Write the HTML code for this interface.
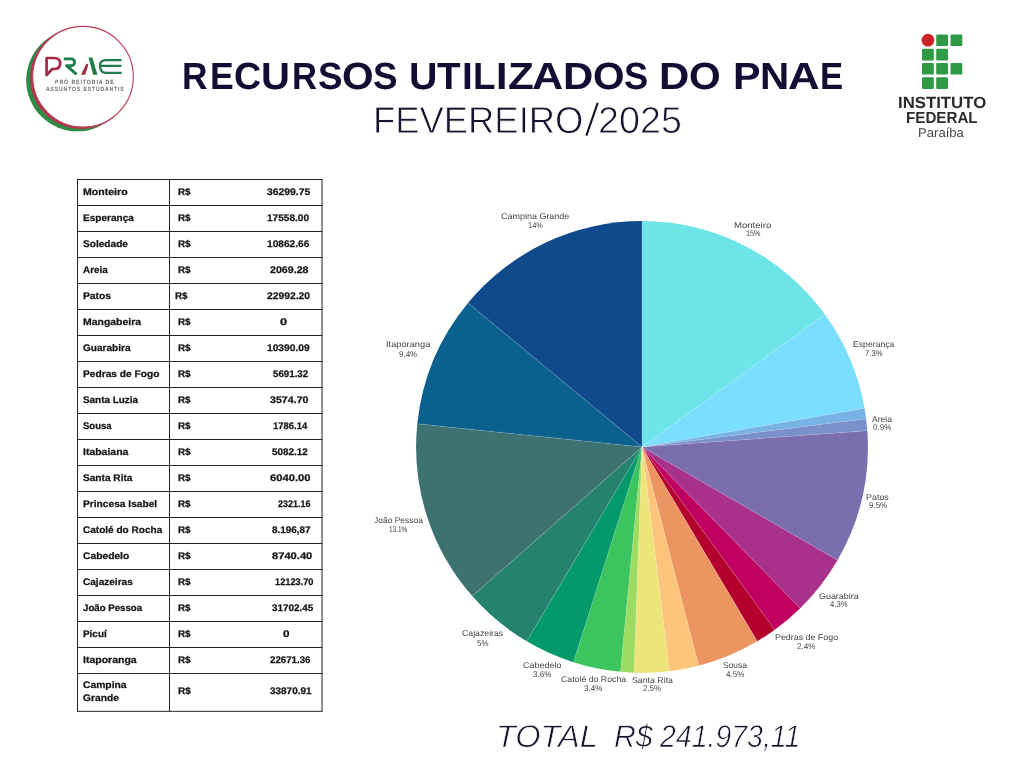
<!DOCTYPE html>
<html><head><meta charset="utf-8"><title>Recursos PNAE</title>
<style>
html,body{margin:0;padding:0;background:#fff;}
body{width:1024px;height:768px;position:relative;overflow:hidden;font-family:"Liberation Sans",sans-serif;}
.abs{position:absolute;left:0;top:0}
.t{position:absolute;white-space:pre;transform-origin:0 0;display:block;text-rendering:geometricPrecision}
#tx{position:absolute;left:0;top:0;width:1024px;height:768px;will-change:transform}
</style></head><body>
<svg class="abs" width="1024" height="768" viewBox="0 0 1024 768">

<circle cx="77.3" cy="80.2" r="51.1" fill="#2c8c46"/>
<circle cx="81.3" cy="77.8" r="51.2" fill="#b3364f"/>
<circle cx="83" cy="76.7" r="50.3" fill="#fff" stroke="#bb3c56" stroke-width="1.1"/>
<g fill="none" stroke-linejoin="round" stroke-linecap="round">
<path d="M46.6 75 V58 H54 Q60.2 58 60.2 63.5 Q60.2 69 54 69 H52.2 Z" stroke="#a32a42" stroke-width="2.7"/>
<path d="M63.8 58.9 H71.2 A3.4 3.4 0 0 1 71.2 65.7 H66.6 L76.6 74.3" stroke="#1f7d47" stroke-width="2.9" stroke-linecap="butt"/>
<path d="M121.6 60.2 H106 Q100 60.2 100 65.8 H121.4 M100 65.8 Q100 72.9 106 72.9 H121.6" stroke="#1f7d47" stroke-width="2.3" stroke-linecap="butt"/>
</g>
<polygon points="81,74.7 85.2,74.7 88.4,64.6 86.5,63.6" fill="#a32a42"/>
<line x1="586.4" y1="135.7" x2="597.7" y2="102.8" stroke="#17132f" stroke-width="2.1"/>
<polygon points="88.5,57.4 92.4,57.4 97.4,74.7 93.2,74.7" fill="#1f7d47"/>

<rect x="936.2" y="34.4" width="11.8" height="11.7" rx="1.2" fill="#2f9a45"/>
<rect x="950.5" y="34.4" width="11.8" height="11.7" rx="1.2" fill="#2f9a45"/>
<rect x="922.0" y="48.7" width="11.8" height="11.7" rx="1.2" fill="#2f9a45"/>
<rect x="936.2" y="48.7" width="11.8" height="11.7" rx="1.2" fill="#2f9a45"/>
<rect x="922.0" y="62.9" width="11.8" height="11.7" rx="1.2" fill="#2f9a45"/>
<rect x="936.2" y="62.9" width="11.8" height="11.7" rx="1.2" fill="#2f9a45"/>
<rect x="950.5" y="62.9" width="11.8" height="11.7" rx="1.2" fill="#2f9a45"/>
<rect x="922.0" y="77.2" width="11.8" height="11.7" rx="1.2" fill="#2f9a45"/>
<rect x="936.2" y="77.2" width="11.8" height="11.7" rx="1.2" fill="#2f9a45"/>
<circle cx="927.95" cy="40.15" r="6.35" fill="#cc2229"/>
<g fill="#242424"><rect x="77" y="179" width="1" height="532.8"/><rect x="169" y="179" width="1" height="532.8"/><rect x="321.5" y="179" width="1" height="532.8"/><rect x="77" y="179" width="245.5" height="1"/><rect x="77" y="710.8" width="245.5" height="1"/><rect x="77" y="205" width="245.5" height="1"/><rect x="77" y="231" width="245.5" height="1"/><rect x="77" y="257" width="245.5" height="1"/><rect x="77" y="283" width="245.5" height="1"/><rect x="77" y="309" width="245.5" height="1"/><rect x="77" y="335" width="245.5" height="1"/><rect x="77" y="361" width="245.5" height="1"/><rect x="77" y="387" width="245.5" height="1"/><rect x="77" y="413" width="245.5" height="1"/><rect x="77" y="439" width="245.5" height="1"/><rect x="77" y="465" width="245.5" height="1"/><rect x="77" y="491" width="245.5" height="1"/><rect x="77" y="517" width="245.5" height="1"/><rect x="77" y="543" width="245.5" height="1"/><rect x="77" y="569" width="245.5" height="1"/><rect x="77" y="595" width="245.5" height="1"/><rect x="77" y="621" width="245.5" height="1"/><rect x="77" y="647" width="245.5" height="1"/><rect x="77" y="673" width="245.5" height="1"/></g>
<path d="M642.0 447.0L642.00 221.10A225.9 225.9 0 0 1 824.77 314.24Z" fill="#6ce4e8"/>
<path d="M642.0 447.0L824.77 314.24A225.9 225.9 0 0 1 864.56 408.27Z" fill="#7adffe"/>
<path d="M642.0 447.0L864.56 408.27A225.9 225.9 0 0 1 866.11 418.63Z" fill="#78b3e6"/>
<path d="M642.0 447.0L866.11 418.63A225.9 225.9 0 0 1 867.31 430.71Z" fill="#7a90cb"/>
<path d="M642.0 447.0L867.31 430.71A225.9 225.9 0 0 1 837.50 560.19Z" fill="#7a6eae"/>
<path d="M642.0 447.0L837.50 560.19A225.9 225.9 0 0 1 800.25 608.20Z" fill="#a8328b"/>
<path d="M642.0 447.0L800.25 608.20A225.9 225.9 0 0 1 774.79 629.75Z" fill="#c00060"/>
<path d="M642.0 447.0L774.79 629.75A225.9 225.9 0 0 1 757.28 641.27Z" fill="#b3002d"/>
<path d="M642.0 447.0L757.28 641.27A225.9 225.9 0 0 1 698.65 665.68Z" fill="#ec9560"/>
<path d="M642.0 447.0L698.65 665.68A225.9 225.9 0 0 1 669.39 671.23Z" fill="#fdc47c"/>
<path d="M642.0 447.0L669.39 671.23A225.9 225.9 0 0 1 634.03 672.76Z" fill="#ede47a"/>
<path d="M642.0 447.0L634.03 672.76A225.9 225.9 0 0 1 620.44 671.87Z" fill="#9cdc62"/>
<path d="M642.0 447.0L620.44 671.87A225.9 225.9 0 0 1 573.43 662.24Z" fill="#3cc45e"/>
<path d="M642.0 447.0L573.43 662.24A225.9 225.9 0 0 1 526.75 641.29Z" fill="#04996b"/>
<path d="M642.0 447.0L526.75 641.29A225.9 225.9 0 0 1 472.26 596.06Z" fill="#25826f"/>
<path d="M642.0 447.0L472.26 596.06A225.9 225.9 0 0 1 417.29 423.86Z" fill="#3d7270"/>
<path d="M642.0 447.0L417.29 423.86A225.9 225.9 0 0 1 467.96 302.98Z" fill="#0b618e"/>
<path d="M642.0 447.0L467.96 302.98A225.9 225.9 0 0 1 642.00 221.10Z" fill="#0e4a8c"/>
<g stroke="#ffffff" stroke-opacity="0.28" stroke-width="0.6"><line x1="642.0" y1="447.0" x2="642.00" y2="221.10"/>
<line x1="642.0" y1="447.0" x2="824.77" y2="314.24"/>
<line x1="642.0" y1="447.0" x2="864.56" y2="408.27"/>
<line x1="642.0" y1="447.0" x2="866.11" y2="418.63"/>
<line x1="642.0" y1="447.0" x2="867.31" y2="430.71"/>
<line x1="642.0" y1="447.0" x2="837.50" y2="560.19"/>
<line x1="642.0" y1="447.0" x2="800.25" y2="608.20"/>
<line x1="642.0" y1="447.0" x2="774.79" y2="629.75"/>
<line x1="642.0" y1="447.0" x2="757.28" y2="641.27"/>
<line x1="642.0" y1="447.0" x2="698.65" y2="665.68"/>
<line x1="642.0" y1="447.0" x2="669.39" y2="671.23"/>
<line x1="642.0" y1="447.0" x2="634.03" y2="672.76"/>
<line x1="642.0" y1="447.0" x2="620.44" y2="671.87"/>
<line x1="642.0" y1="447.0" x2="573.43" y2="662.24"/>
<line x1="642.0" y1="447.0" x2="526.75" y2="641.29"/>
<line x1="642.0" y1="447.0" x2="472.26" y2="596.06"/>
<line x1="642.0" y1="447.0" x2="417.29" y2="423.86"/>
<line x1="642.0" y1="447.0" x2="467.96" y2="302.98"/></g>
</svg>

<div id="tx">
<span class="t" style="left:181.81px;top:58.80px;font-size:37.8px;line-height:37.8px;color:#130d33;font-weight:bold;transform:scaleX(0.9354);">R</span>
<span class="t" style="left:209.65px;top:58.80px;font-size:37.8px;line-height:37.8px;color:#130d33;font-weight:bold;transform:scaleX(0.9412);">E</span>
<span class="t" style="left:234.11px;top:58.80px;font-size:37.8px;line-height:37.8px;color:#130d33;font-weight:bold;transform:scaleX(0.9939);">C</span>
<span class="t" style="left:261.42px;top:58.80px;font-size:37.8px;line-height:37.8px;color:#130d33;font-weight:bold;transform:scaleX(1.0593);">U</span>
<span class="t" style="left:292.21px;top:58.80px;font-size:37.8px;line-height:37.8px;color:#130d33;font-weight:bold;transform:scaleX(0.9167);">R</span>
<span class="t" style="left:317.88px;top:58.80px;font-size:37.8px;line-height:37.8px;color:#130d33;font-weight:bold;transform:scaleX(0.9733);">S</span>
<span class="t" style="left:341.99px;top:58.80px;font-size:37.8px;line-height:37.8px;color:#130d33;font-weight:bold;transform:scaleX(1.0762);">O</span>
<span class="t" style="left:373.28px;top:58.80px;font-size:37.8px;line-height:37.8px;color:#130d33;font-weight:bold;transform:scaleX(0.9733);">S</span>
<span class="t" style="left:409.06px;top:58.80px;font-size:37.8px;line-height:37.8px;color:#130d33;font-weight:bold;transform:scaleX(1.0418);">U</span>
<span class="t" style="left:437.09px;top:58.80px;font-size:37.8px;line-height:37.8px;color:#130d33;font-weight:bold;transform:scaleX(1.0202);">T</span>
<span class="t" style="left:461.58px;top:58.80px;font-size:37.8px;line-height:37.8px;color:#130d33;font-weight:bold;transform:scaleX(1.0273);">I</span>
<span class="t" style="left:472.86px;top:58.80px;font-size:37.8px;line-height:37.8px;color:#130d33;font-weight:bold;transform:scaleX(0.9744);">L</span>
<span class="t" style="left:495.67px;top:58.80px;font-size:37.8px;line-height:37.8px;color:#130d33;font-weight:bold;transform:scaleX(1.0909);">I</span>
<span class="t" style="left:507.70px;top:58.80px;font-size:37.8px;line-height:37.8px;color:#130d33;font-weight:bold;transform:scaleX(1.1181);">Z</span>
<span class="t" style="left:531.66px;top:58.80px;font-size:37.8px;line-height:37.8px;color:#130d33;font-weight:bold;transform:scaleX(1.1446);">A</span>
<span class="t" style="left:562.73px;top:58.80px;font-size:37.8px;line-height:37.8px;color:#130d33;font-weight:bold;transform:scaleX(1.1097);">D</span>
<span class="t" style="left:592.99px;top:58.80px;font-size:37.8px;line-height:37.8px;color:#130d33;font-weight:bold;transform:scaleX(1.0743);">O</span>
<span class="t" style="left:624.10px;top:58.80px;font-size:37.8px;line-height:37.8px;color:#130d33;font-weight:bold;transform:scaleX(0.9600);">S</span>
<span class="t" style="left:658.93px;top:58.80px;font-size:37.8px;line-height:37.8px;color:#130d33;font-weight:bold;transform:scaleX(1.1097);">D</span>
<span class="t" style="left:689.38px;top:58.80px;font-size:37.8px;line-height:37.8px;color:#130d33;font-weight:bold;transform:scaleX(1.0781);">O</span>
<span class="t" style="left:732.77px;top:58.80px;font-size:37.8px;line-height:37.8px;color:#130d33;font-weight:bold;transform:scaleX(1.0930);">P</span>
<span class="t" style="left:760.23px;top:58.80px;font-size:37.8px;line-height:37.8px;color:#130d33;font-weight:bold;transform:scaleX(1.0697);">N</span>
<span class="t" style="left:787.94px;top:58.80px;font-size:37.8px;line-height:37.8px;color:#130d33;font-weight:bold;transform:scaleX(1.1604);">A</span>
<span class="t" style="left:819.61px;top:58.80px;font-size:37.8px;line-height:37.8px;color:#130d33;font-weight:bold;transform:scaleX(0.9176);">E</span>
<span class="t" style="left:373.39px;top:102.25px;font-size:37.5px;line-height:37.5px;color:#17132f;-webkit-text-stroke:0.8px #fff;transform:scaleX(0.9708);">FEVEREIRO</span>
<span class="t" style="left:598.39px;top:102.25px;font-size:37.5px;line-height:37.5px;color:#17132f;-webkit-text-stroke:0.8px #fff;transform:scaleX(1.0069);">2025</span>
<span class="t" style="left:495.55px;top:720.90px;font-size:31.4px;line-height:31.4px;color:#17132f;font-style:italic;-webkit-text-stroke:0.7px #fff;transform:scaleX(1.0359);">TOTAL</span>
<span class="t" style="left:613.74px;top:720.90px;font-size:31.4px;line-height:31.4px;color:#17132f;font-style:italic;-webkit-text-stroke:0.7px #fff;transform:scaleX(0.9646);">R$</span>
<span class="t" style="left:660.23px;top:720.90px;font-size:31.4px;line-height:31.4px;color:#17132f;font-style:italic;-webkit-text-stroke:0.7px #fff;transform:scaleX(0.9071);">241.973,11</span>
<span class="t" style="left:897.56px;top:95.45px;font-size:16.2px;line-height:16.2px;color:#2b2b2b;font-weight:bold;transform:scaleX(1.0359);">INSTITUTO</span>
<span class="t" style="left:905.70px;top:110.85px;font-size:16.0px;line-height:16.0px;color:#2b2b2b;font-weight:bold;transform:scaleX(0.9480);">FEDERAL</span>
<span class="t" style="left:918.48px;top:127.35px;font-size:12.8px;line-height:12.8px;color:#444;transform:scaleX(1.0240);">Paraíba</span>
<span class="t" style="left:54.77px;top:80.15px;font-size:6.1px;line-height:6.1px;color:#6a6a6a;font-weight:bold;letter-spacing:1.0px;transform:scaleX(0.8672);">PRÓ REITORIA DE</span>
<span class="t" style="left:45.59px;top:86.75px;font-size:6.1px;line-height:6.1px;color:#6a6a6a;font-weight:bold;letter-spacing:1.0px;transform:scaleX(0.8413);">ASSUNTOS ESTUDANTIS</span>
<span class="t" style="left:82.87px;top:188.15px;font-size:9.6px;line-height:9.6px;color:#151515;font-weight:bold;-webkit-text-stroke:0.25px #151515;transform:scaleX(1.1013);">Monteiro</span>
<span class="t" style="left:177.93px;top:188.15px;font-size:9.6px;line-height:9.6px;color:#151515;font-weight:bold;-webkit-text-stroke:0.25px #151515;transform:scaleX(1.0261);">R$</span>
<span class="t" style="left:266.98px;top:188.15px;font-size:9.6px;line-height:9.6px;color:#151515;font-weight:bold;-webkit-text-stroke:0.25px #151515;transform:scaleX(1.0823);">36299.75</span>
<span class="t" style="left:82.91px;top:214.15px;font-size:9.6px;line-height:9.6px;color:#151515;font-weight:bold;-webkit-text-stroke:0.25px #151515;transform:scaleX(1.0471);">Esperança</span>
<span class="t" style="left:177.93px;top:214.15px;font-size:9.6px;line-height:9.6px;color:#151515;font-weight:bold;-webkit-text-stroke:0.25px #151515;transform:scaleX(1.0261);">R$</span>
<span class="t" style="left:267.22px;top:214.15px;font-size:9.6px;line-height:9.6px;color:#151515;font-weight:bold;-webkit-text-stroke:0.25px #151515;transform:scaleX(1.0510);">17558.00</span>
<span class="t" style="left:83.44px;top:240.15px;font-size:9.6px;line-height:9.6px;color:#151515;font-weight:bold;-webkit-text-stroke:0.25px #151515;transform:scaleX(1.0536);">Soledade</span>
<span class="t" style="left:177.93px;top:240.15px;font-size:9.6px;line-height:9.6px;color:#151515;font-weight:bold;-webkit-text-stroke:0.25px #151515;transform:scaleX(1.0261);">R$</span>
<span class="t" style="left:267.22px;top:240.15px;font-size:9.6px;line-height:9.6px;color:#151515;font-weight:bold;-webkit-text-stroke:0.25px #151515;transform:scaleX(1.0573);">10862.66</span>
<span class="t" style="left:83.44px;top:266.15px;font-size:9.6px;line-height:9.6px;color:#151515;font-weight:bold;-webkit-text-stroke:0.25px #151515;transform:scaleX(1.0316);">Areia</span>
<span class="t" style="left:177.93px;top:266.15px;font-size:9.6px;line-height:9.6px;color:#151515;font-weight:bold;-webkit-text-stroke:0.25px #151515;transform:scaleX(1.0261);">R$</span>
<span class="t" style="left:269.72px;top:266.15px;font-size:9.6px;line-height:9.6px;color:#151515;font-weight:bold;-webkit-text-stroke:0.25px #151515;transform:scaleX(1.1103);">2069.28</span>
<span class="t" style="left:82.90px;top:292.15px;font-size:9.6px;line-height:9.6px;color:#151515;font-weight:bold;-webkit-text-stroke:0.25px #151515;transform:scaleX(1.0700);">Patos</span>
<span class="t" style="left:175.18px;top:292.15px;font-size:9.6px;line-height:9.6px;color:#151515;font-weight:bold;-webkit-text-stroke:0.25px #151515;transform:scaleX(1.0261);">R$</span>
<span class="t" style="left:266.98px;top:292.15px;font-size:9.6px;line-height:9.6px;color:#151515;font-weight:bold;-webkit-text-stroke:0.25px #151515;transform:scaleX(1.0759);">22992.20</span>
<span class="t" style="left:82.88px;top:318.15px;font-size:9.6px;line-height:9.6px;color:#151515;font-weight:bold;-webkit-text-stroke:0.25px #151515;transform:scaleX(1.0900);">Mangabeira</span>
<span class="t" style="left:177.93px;top:318.15px;font-size:9.6px;line-height:9.6px;color:#151515;font-weight:bold;-webkit-text-stroke:0.25px #151515;transform:scaleX(1.0261);">R$</span>
<span class="t" style="left:280.33px;top:318.15px;font-size:9.6px;line-height:9.6px;color:#151515;font-weight:bold;-webkit-text-stroke:0.25px #151515;transform:scaleX(1.3333);">0</span>
<span class="t" style="left:83.17px;top:344.15px;font-size:9.6px;line-height:9.6px;color:#151515;font-weight:bold;-webkit-text-stroke:0.25px #151515;transform:scaleX(1.0500);">Guarabira</span>
<span class="t" style="left:177.93px;top:344.15px;font-size:9.6px;line-height:9.6px;color:#151515;font-weight:bold;-webkit-text-stroke:0.25px #151515;transform:scaleX(1.0261);">R$</span>
<span class="t" style="left:267.22px;top:344.15px;font-size:9.6px;line-height:9.6px;color:#151515;font-weight:bold;-webkit-text-stroke:0.25px #151515;transform:scaleX(1.0637);">10390.09</span>
<span class="t" style="left:82.90px;top:370.15px;font-size:9.6px;line-height:9.6px;color:#151515;font-weight:bold;-webkit-text-stroke:0.25px #151515;transform:scaleX(1.0634);">Pedras de Fogo</span>
<span class="t" style="left:177.93px;top:370.15px;font-size:9.6px;line-height:9.6px;color:#151515;font-weight:bold;-webkit-text-stroke:0.25px #151515;transform:scaleX(1.0261);">R$</span>
<span class="t" style="left:272.50px;top:370.15px;font-size:9.6px;line-height:9.6px;color:#151515;font-weight:bold;-webkit-text-stroke:0.25px #151515;transform:scaleX(1.0147);">5691.32</span>
<span class="t" style="left:83.44px;top:396.15px;font-size:9.6px;line-height:9.6px;color:#151515;font-weight:bold;-webkit-text-stroke:0.25px #151515;transform:scaleX(1.0329);">Santa Luzia</span>
<span class="t" style="left:177.93px;top:396.15px;font-size:9.6px;line-height:9.6px;color:#151515;font-weight:bold;-webkit-text-stroke:0.25px #151515;transform:scaleX(1.0261);">R$</span>
<span class="t" style="left:269.72px;top:396.15px;font-size:9.6px;line-height:9.6px;color:#151515;font-weight:bold;-webkit-text-stroke:0.25px #151515;transform:scaleX(1.1103);">3574.70</span>
<span class="t" style="left:83.45px;top:422.15px;font-size:9.6px;line-height:9.6px;color:#151515;font-weight:bold;-webkit-text-stroke:0.25px #151515;transform:scaleX(0.9912);">Sousa</span>
<span class="t" style="left:177.93px;top:422.15px;font-size:9.6px;line-height:9.6px;color:#151515;font-weight:bold;-webkit-text-stroke:0.25px #151515;transform:scaleX(1.0261);">R$</span>
<span class="t" style="left:272.76px;top:422.15px;font-size:9.6px;line-height:9.6px;color:#151515;font-weight:bold;-webkit-text-stroke:0.25px #151515;transform:scaleX(0.9853);">1786.14</span>
<span class="t" style="left:82.88px;top:448.15px;font-size:9.6px;line-height:9.6px;color:#151515;font-weight:bold;-webkit-text-stroke:0.25px #151515;transform:scaleX(1.0915);">Itabaiana</span>
<span class="t" style="left:177.93px;top:448.15px;font-size:9.6px;line-height:9.6px;color:#151515;font-weight:bold;-webkit-text-stroke:0.25px #151515;transform:scaleX(1.0261);">R$</span>
<span class="t" style="left:272.49px;top:448.15px;font-size:9.6px;line-height:9.6px;color:#151515;font-weight:bold;-webkit-text-stroke:0.25px #151515;transform:scaleX(1.0294);">5082.12</span>
<span class="t" style="left:83.44px;top:474.15px;font-size:9.6px;line-height:9.6px;color:#151515;font-weight:bold;-webkit-text-stroke:0.25px #151515;transform:scaleX(1.0535);">Santa Rita</span>
<span class="t" style="left:177.93px;top:474.15px;font-size:9.6px;line-height:9.6px;color:#151515;font-weight:bold;-webkit-text-stroke:0.25px #151515;transform:scaleX(1.0261);">R$</span>
<span class="t" style="left:269.71px;top:474.15px;font-size:9.6px;line-height:9.6px;color:#151515;font-weight:bold;-webkit-text-stroke:0.25px #151515;transform:scaleX(1.1691);">6040.00</span>
<span class="t" style="left:82.90px;top:500.15px;font-size:9.6px;line-height:9.6px;color:#151515;font-weight:bold;-webkit-text-stroke:0.25px #151515;transform:scaleX(1.0620);">Princesa Isabel</span>
<span class="t" style="left:177.93px;top:500.15px;font-size:9.6px;line-height:9.6px;color:#151515;font-weight:bold;-webkit-text-stroke:0.25px #151515;transform:scaleX(1.0261);">R$</span>
<span class="t" style="left:278.02px;top:500.15px;font-size:9.6px;line-height:9.6px;color:#151515;font-weight:bold;-webkit-text-stroke:0.25px #151515;transform:scaleX(0.9338);">2321.16</span>
<span class="t" style="left:83.18px;top:526.15px;font-size:9.6px;line-height:9.6px;color:#151515;font-weight:bold;-webkit-text-stroke:0.25px #151515;transform:scaleX(1.0465);">Catolé do Rocha</span>
<span class="t" style="left:177.93px;top:526.15px;font-size:9.6px;line-height:9.6px;color:#151515;font-weight:bold;-webkit-text-stroke:0.25px #151515;transform:scaleX(1.0261);">R$</span>
<span class="t" style="left:272.49px;top:526.15px;font-size:9.6px;line-height:9.6px;color:#151515;font-weight:bold;-webkit-text-stroke:0.25px #151515;transform:scaleX(1.0340);">8.196,87</span>
<span class="t" style="left:83.16px;top:552.15px;font-size:9.6px;line-height:9.6px;color:#151515;font-weight:bold;-webkit-text-stroke:0.25px #151515;transform:scaleX(1.0710);">Cabedelo</span>
<span class="t" style="left:177.93px;top:552.15px;font-size:9.6px;line-height:9.6px;color:#151515;font-weight:bold;-webkit-text-stroke:0.25px #151515;transform:scaleX(1.0261);">R$</span>
<span class="t" style="left:272.46px;top:552.15px;font-size:9.6px;line-height:9.6px;color:#151515;font-weight:bold;-webkit-text-stroke:0.25px #151515;transform:scaleX(1.1618);">8740.40</span>
<span class="t" style="left:83.18px;top:578.15px;font-size:9.6px;line-height:9.6px;color:#151515;font-weight:bold;-webkit-text-stroke:0.25px #151515;transform:scaleX(1.0484);">Cajazeiras</span>
<span class="t" style="left:177.93px;top:578.15px;font-size:9.6px;line-height:9.6px;color:#151515;font-weight:bold;-webkit-text-stroke:0.25px #151515;transform:scaleX(1.0261);">R$</span>
<span class="t" style="left:275.02px;top:578.15px;font-size:9.6px;line-height:9.6px;color:#151515;font-weight:bold;-webkit-text-stroke:0.25px #151515;transform:scaleX(0.9618);">12123.70</span>
<span class="t" style="left:83.45px;top:604.15px;font-size:9.6px;line-height:9.6px;color:#151515;font-weight:bold;-webkit-text-stroke:0.25px #151515;transform:scaleX(1.0085);">João Pessoa</span>
<span class="t" style="left:177.93px;top:604.15px;font-size:9.6px;line-height:9.6px;color:#151515;font-weight:bold;-webkit-text-stroke:0.25px #151515;transform:scaleX(1.0261);">R$</span>
<span class="t" style="left:272.49px;top:604.15px;font-size:9.6px;line-height:9.6px;color:#151515;font-weight:bold;-webkit-text-stroke:0.25px #151515;transform:scaleX(1.0316);">31702.45</span>
<span class="t" style="left:82.92px;top:630.15px;font-size:9.6px;line-height:9.6px;color:#151515;font-weight:bold;-webkit-text-stroke:0.25px #151515;transform:scaleX(1.0333);">Picuí</span>
<span class="t" style="left:177.93px;top:630.15px;font-size:9.6px;line-height:9.6px;color:#151515;font-weight:bold;-webkit-text-stroke:0.25px #151515;transform:scaleX(1.0261);">R$</span>
<span class="t" style="left:282.89px;top:630.15px;font-size:9.6px;line-height:9.6px;color:#151515;font-weight:bold;-webkit-text-stroke:0.25px #151515;transform:scaleX(1.2222);">0</span>
<span class="t" style="left:82.88px;top:656.15px;font-size:9.6px;line-height:9.6px;color:#151515;font-weight:bold;-webkit-text-stroke:0.25px #151515;transform:scaleX(1.0933);">Itaporanga</span>
<span class="t" style="left:177.93px;top:656.15px;font-size:9.6px;line-height:9.6px;color:#151515;font-weight:bold;-webkit-text-stroke:0.25px #151515;transform:scaleX(1.0261);">R$</span>
<span class="t" style="left:269.75px;top:656.15px;font-size:9.6px;line-height:9.6px;color:#151515;font-weight:bold;-webkit-text-stroke:0.25px #151515;transform:scaleX(1.0127);">22671.36</span>
<span class="t" style="left:83.16px;top:680.75px;font-size:9.6px;line-height:9.6px;color:#151515;font-weight:bold;-webkit-text-stroke:0.25px #151515;transform:scaleX(1.0750);">Campina</span>
<span class="t" style="left:83.17px;top:693.65px;font-size:9.6px;line-height:9.6px;color:#151515;font-weight:bold;-webkit-text-stroke:0.25px #151515;transform:scaleX(1.0687);">Grande</span>
<span class="t" style="left:177.72px;top:687.15px;font-size:9.6px;line-height:9.6px;color:#151515;font-weight:bold;-webkit-text-stroke:0.25px #151515;transform:scaleX(1.0435);">R$</span>
<span class="t" style="left:269.74px;top:687.15px;font-size:9.6px;line-height:9.6px;color:#151515;font-weight:bold;-webkit-text-stroke:0.25px #151515;transform:scaleX(1.0380);">33870.91</span>
<span class="t" style="left:501.06px;top:211.95px;font-size:8.4px;line-height:8.4px;color:#444;transform:scaleX(1.0714);">Campina Grande</span>
<span class="t" style="left:527.53px;top:221.05px;font-size:8.4px;line-height:8.4px;color:#444;transform:scaleX(0.8952);">14%</span>
<span class="t" style="left:733.94px;top:221.15px;font-size:8.4px;line-height:8.4px;color:#444;transform:scaleX(1.1429);">Monteiro</span>
<span class="t" style="left:745.55px;top:228.95px;font-size:8.4px;line-height:8.4px;color:#444;transform:scaleX(0.8635);">15%</span>
<span class="t" style="left:852.92px;top:340.05px;font-size:8.4px;line-height:8.4px;color:#444;transform:scaleX(1.0344);">Esperança</span>
<span class="t" style="left:865.34px;top:348.95px;font-size:8.4px;line-height:8.4px;color:#444;transform:scaleX(0.9205);">7.3%</span>
<span class="t" style="left:872.10px;top:415.05px;font-size:8.4px;line-height:8.4px;color:#444;transform:scaleX(1.0205);">Areia</span>
<span class="t" style="left:872.66px;top:423.25px;font-size:8.4px;line-height:8.4px;color:#444;transform:scaleX(0.9568);">0.9%</span>
<span class="t" style="left:866.15px;top:492.95px;font-size:8.4px;line-height:8.4px;color:#444;transform:scaleX(1.0659);">Patos</span>
<span class="t" style="left:869.02px;top:501.05px;font-size:8.4px;line-height:8.4px;color:#444;transform:scaleX(0.9534);">9.5%</span>
<span class="t" style="left:819.37px;top:591.95px;font-size:8.4px;line-height:8.4px;color:#444;transform:scaleX(1.0639);">Guarabira</span>
<span class="t" style="left:830.47px;top:600.00px;font-size:8.4px;line-height:8.4px;color:#444;transform:scaleX(0.9243);">4.3%</span>
<span class="t" style="left:775.01px;top:632.95px;font-size:8.4px;line-height:8.4px;color:#444;transform:scaleX(1.0581);">Pedras de Fogo</span>
<span class="t" style="left:797.32px;top:641.85px;font-size:8.4px;line-height:8.4px;color:#444;transform:scaleX(0.9644);">2.4%</span>
<span class="t" style="left:722.59px;top:660.95px;font-size:8.4px;line-height:8.4px;color:#444;transform:scaleX(1.0108);">Sousa</span>
<span class="t" style="left:725.66px;top:670.00px;font-size:8.4px;line-height:8.4px;color:#444;transform:scaleX(0.9568);">4.5%</span>
<span class="t" style="left:631.54px;top:676.35px;font-size:8.4px;line-height:8.4px;color:#444;transform:scaleX(1.0478);">Santa Rita</span>
<span class="t" style="left:643.03px;top:683.95px;font-size:8.4px;line-height:8.4px;color:#444;transform:scaleX(0.9452);">2.5%</span>
<span class="t" style="left:560.83px;top:675.35px;font-size:8.4px;line-height:8.4px;color:#444;transform:scaleX(1.0444);">Catolé do Rocha</span>
<span class="t" style="left:584.26px;top:683.95px;font-size:8.4px;line-height:8.4px;color:#444;transform:scaleX(0.9568);">3.4%</span>
<span class="t" style="left:523.06px;top:661.25px;font-size:8.4px;line-height:8.4px;color:#444;transform:scaleX(1.0714);">Cabedelo</span>
<span class="t" style="left:532.91px;top:670.15px;font-size:8.4px;line-height:8.4px;color:#444;transform:scaleX(0.9595);">3.6%</span>
<span class="t" style="left:462.18px;top:629.15px;font-size:8.4px;line-height:8.4px;color:#444;transform:scaleX(1.0418);">Cajazeiras</span>
<span class="t" style="left:477.23px;top:639.05px;font-size:8.4px;line-height:8.4px;color:#444;transform:scaleX(0.9422);">5%</span>
<span class="t" style="left:374.15px;top:515.85px;font-size:8.4px;line-height:8.4px;color:#444;transform:scaleX(1.0114);">João Pessoa</span>
<span class="t" style="left:389.02px;top:524.85px;font-size:8.4px;line-height:8.4px;color:#444;transform:scaleX(0.7736);">13.1%</span>
<span class="t" style="left:385.97px;top:340.05px;font-size:8.4px;line-height:8.4px;color:#444;transform:scaleX(1.1057);">Itaporanga</span>
<span class="t" style="left:399.42px;top:350.00px;font-size:8.4px;line-height:8.4px;color:#444;transform:scaleX(0.9534);">9.4%</span>
</div>
</body></html>
